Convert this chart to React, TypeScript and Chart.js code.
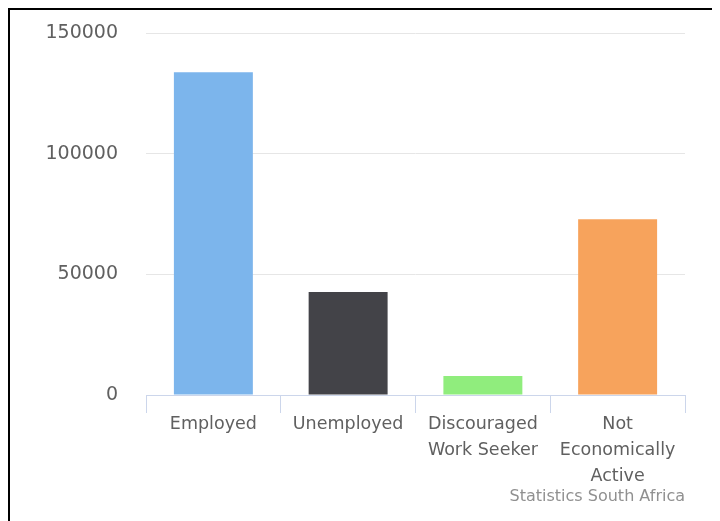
import React, { useEffect, useRef } from "react";
import { Chart, registerables } from "chart.js";

Chart.register(...registerables);

const categories: (string | string[])[] = [
  "Employed",
  "Unemployed",
  ["Discouraged", "Work Seeker"],
  ["Not", "Economically", "Active"],
];
const values: number[] = [133700, 42700, 7900, 72800];
const barColors: string[] = ["#7cb5ec", "#434348", "#90ed7d", "#f7a35c"];
const yTicks: number[] = [0, 50000, 100000, 150000];
const creditText = "Statistics South Africa";

const FONT = "'DejaVu Sans', Verdana, sans-serif";

const creditsPlugin = {
  id: "credits",
  afterDraw(chart: any) {
    const ctx = chart.ctx;
    ctx.save();
    ctx.font = `16px ${FONT}`;
    ctx.fillStyle = "#909090";
    ctx.textAlign = "right";
    ctx.textBaseline = "middle";
    ctx.fillText(creditText, chart.chartArea.right, 487);
    ctx.restore();
  },
};

export default function App() {
  const ref = useRef<HTMLCanvasElement | null>(null);

  useEffect(() => {
    if (!ref.current) return;
    const chart = new Chart(ref.current, {
      type: "bar",
      data: {
        labels: categories,
        datasets: [
          {
            data: values,
            backgroundColor: barColors,
            borderWidth: 0,
            barPercentage: 0.586,
            categoryPercentage: 1,
          },
        ],
      },
      options: {
        animation: false,
        responsive: false,
        maintainAspectRatio: false,
        layout: { padding: { top: 23, right: 35, left: 0, bottom: 0 } },
        plugins: {
          legend: { display: false },
          tooltip: { enabled: false },
          title: { display: false },
        },
        scales: {
          x: {
            afterFit(scale: any) {
              scale.height = 126;
            },
            border: { display: true, color: "#ccd6eb", width: 1 },
            grid: {
              display: true,
              drawOnChartArea: false,
              drawTicks: true,
              tickLength: 18,
              color: "#ccd6eb",
              offset: true,
            },
            ticks: {
              color: "#606060",
              padding: -2,
              maxRotation: 0,
              autoSkip: false,
              font: { family: FONT, size: 17.5, lineHeight: 1.5 },
            },
          },
          y: {
            min: 0,
            max: 150000,
            afterFit(scale: any) {
              scale.width = 136;
              scale.paddingTop = 0;
              scale.paddingBottom = 0;
            },
            afterBuildTicks(scale: any) {
              scale.ticks = yTicks.map((v) => ({ value: v }));
            },
            border: { display: false },
            grid: {
              drawTicks: false,
              color: (c: any) => (c.tick && c.tick.value === 0 ? "rgba(0,0,0,0)" : "#e6e6e6"),
              lineWidth: 1,
            },
            ticks: {
              color: "#606060",
              padding: 28,
              font: { family: FONT, size: 19 },
              callback: (v: any) => String(v),
            },
          },
        },
      },
      plugins: [creditsPlugin],
    });
    return () => chart.destroy();
  }, []);

  return (
    <div
      style={{
        borderTop: "2px solid #000",
        borderLeft: "2px solid #000",
        width: 710,
        height: 511,
        background: "#fff",
      }}
    >
      <canvas ref={ref} width={710} height={511} style={{ display: "block" }} />
    </div>
  );
}
